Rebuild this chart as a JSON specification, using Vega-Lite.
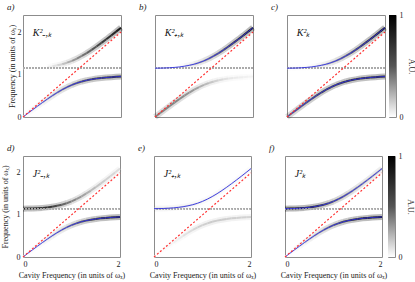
{
"$schema":"https://vega.github.io/schema/vega-lite/v6.json",
"padding":{"left":0,"top":2,"right":0,"bottom":0},
"datasets":{
"curves":[
{"x":0,"lo":0,"up":1.149,"aL":0.02,"aU":0,"bL":0.45,"bU":0,"cL":0.47,"cU":0.02,"dL":0,"dU":0.85,"eL":0,"eU":0.12,"fL":0,"fU":0.95},
{"x":0.1,"lo":0.087,"up":1.150,"aL":0.05,"aU":0,"bL":0.45,"bU":0,"cL":0.5,"cU":0.02,"dL":0.02,"dU":0.85,"eL":0.01,"eU":0.12,"fL":0.03,"fU":0.95},
{"x":0.2,"lo":0.173,"up":1.153,"aL":0.08,"aU":0,"bL":0.45,"bU":0,"cL":0.53,"cU":0.02,"dL":0.04,"dU":0.84,"eL":0.02,"eU":0.12,"fL":0.06,"fU":0.94},
{"x":0.3,"lo":0.259,"up":1.159,"aL":0.12,"aU":0,"bL":0.45,"bU":0,"cL":0.57,"cU":0.03,"dL":0.07,"dU":0.82,"eL":0.03,"eU":0.11,"fL":0.1,"fU":0.92},
{"x":0.4,"lo":0.343,"up":1.167,"aL":0.17,"aU":0,"bL":0.44,"bU":0,"cL":0.61,"cU":0.04,"dL":0.1,"dU":0.8,"eL":0.05,"eU":0.1,"fL":0.15,"fU":0.9},
{"x":0.5,"lo":0.424,"up":1.179,"aL":0.22,"aU":0.05,"bL":0.42,"bU":0.05,"cL":0.64,"cU":0.07,"dL":0.14,"dU":0.76,"eL":0.07,"eU":0.1,"fL":0.2,"fU":0.86},
{"x":0.6,"lo":0.502,"up":1.195,"aL":0.28,"aU":0.1,"bL":0.4,"bU":0.1,"cL":0.68,"cU":0.12,"dL":0.19,"dU":0.7,"eL":0.1,"eU":0.09,"fL":0.27,"fU":0.8},
{"x":0.7,"lo":0.576,"up":1.216,"aL":0.34,"aU":0.15,"bL":0.37,"bU":0.15,"cL":0.71,"cU":0.17,"dL":0.25,"dU":0.63,"eL":0.12,"eU":0.08,"fL":0.34,"fU":0.73},
{"x":0.8,"lo":0.643,"up":1.243,"aL":0.4,"aU":0.22,"bL":0.33,"bU":0.22,"cL":0.73,"cU":0.24,"dL":0.32,"dU":0.56,"eL":0.14,"eU":0.08,"fL":0.42,"fU":0.66},
{"x":0.9,"lo":0.704,"up":1.278,"aL":0.46,"aU":0.3,"bL":0.28,"bU":0.3,"cL":0.74,"cU":0.32,"dL":0.4,"dU":0.5,"eL":0.16,"eU":0.07,"fL":0.5,"fU":0.6},
{"x":1.0,"lo":0.756,"up":1.322,"aL":0.52,"aU":0.38,"bL":0.24,"bU":0.38,"cL":0.76,"cU":0.4,"dL":0.48,"dU":0.44,"eL":0.17,"eU":0.07,"fL":0.58,"fU":0.54},
{"x":1.1,"lo":0.800,"up":1.375,"aL":0.57,"aU":0.45,"bL":0.2,"bU":0.45,"cL":0.77,"cU":0.47,"dL":0.56,"dU":0.38,"eL":0.18,"eU":0.06,"fL":0.66,"fU":0.48},
{"x":1.2,"lo":0.836,"up":1.436,"aL":0.62,"aU":0.52,"bL":0.16,"bU":0.52,"cL":0.78,"cU":0.54,"dL":0.63,"dU":0.33,"eL":0.18,"eU":0.06,"fL":0.72,"fU":0.43},
{"x":1.3,"lo":0.864,"up":1.504,"aL":0.66,"aU":0.58,"bL":0.13,"bU":0.58,"cL":0.79,"cU":0.6,"dL":0.69,"dU":0.28,"eL":0.18,"eU":0.06,"fL":0.77,"fU":0.38},
{"x":1.4,"lo":0.886,"up":1.579,"aL":0.7,"aU":0.64,"bL":0.1,"bU":0.64,"cL":0.8,"cU":0.66,"dL":0.74,"dU":0.24,"eL":0.18,"eU":0.05,"fL":0.81,"fU":0.34},
{"x":1.5,"lo":0.904,"up":1.659,"aL":0.73,"aU":0.7,"bL":0.08,"bU":0.7,"cL":0.81,"cU":0.72,"dL":0.78,"dU":0.21,"eL":0.17,"eU":0.05,"fL":0.85,"fU":0.31},
{"x":1.6,"lo":0.918,"up":1.743,"aL":0.76,"aU":0.75,"bL":0.07,"bU":0.75,"cL":0.83,"cU":0.77,"dL":0.82,"dU":0.18,"eL":0.17,"eU":0.05,"fL":0.88,"fU":0.28},
{"x":1.7,"lo":0.929,"up":1.829,"aL":0.79,"aU":0.8,"bL":0.06,"bU":0.8,"cL":0.85,"cU":0.82,"dL":0.85,"dU":0.16,"eL":0.16,"eU":0.05,"fL":0.9,"fU":0.26},
{"x":1.8,"lo":0.938,"up":1.918,"aL":0.81,"aU":0.85,"bL":0.05,"bU":0.85,"cL":0.86,"cU":0.87,"dL":0.87,"dU":0.14,"eL":0.16,"eU":0.05,"fL":0.92,"fU":0.24},
{"x":1.9,"lo":0.946,"up":2.009,"aL":0.83,"aU":0.9,"bL":0.04,"bU":0.9,"cL":0.87,"cU":0.92,"dL":0.89,"dU":0.12,"eL":0.15,"eU":0.05,"fL":0.93,"fU":0.22},
{"x":2.0,"lo":0.952,"up":2.101,"aL":0.85,"aU":0.95,"bL":0.04,"bU":0.95,"cL":0.89,"cU":0.96,"dL":0.9,"dU":0.11,"eL":0.15,"eU":0.05,"fL":0.94,"fU":0.21}
],
"labels":[
{"p":"a","t":"K²₋,ₖ","lx":0.2,"ly":1.98},
{"p":"b","t":"K²₊,ₖ","lx":0.2,"ly":1.98},
{"p":"c","t":"K²ₖ","lx":0.2,"ly":1.98},
{"p":"d","t":"J²₋,ₖ","lx":0.2,"ly":1.98},
{"p":"e","t":"J²₊,ₖ","lx":0.2,"ly":1.98},
{"p":"f","t":"J²ₖ","lx":0.2,"ly":1.98}
],
"bar":[{"v0":0,"v1":1}]
},
"resolve":{"scale":{"color":"independent","opacity":"independent"}},
"vconcat":[
{"hconcat":[
{"width":98,"height":102,"title":{"text":"a)"},"data":{"name":"curves"},
"layer":[
{"transform":[{"window":[{"op":"lead","field":"x","as":"x2"},{"op":"lead","field":"lo","as":"lo2"},{"op":"lead","field":"up","as":"up2"}],"sort":[{"field":"x"}]},{"filter":"isValid(datum.x2)"}],
"mark":{"type":"rule","strokeWidth":6,"strokeCap":"butt","color":"#000"},
"encoding":{"x":{"field":"x","type":"quantitative","scale":{"domain":[0,2],"nice":false},"axis":null},"x2":{"field":"x2"},
"y":{"field":"lo","type":"quantitative","scale":{"domain":[0,2.4],"nice":false},"axis":{"values":[0,1,2],"format":"d","titlePadding":1,"labelPadding":2,"title":"Frequency (in units of ωₓ)"}},"y2":{"field":"lo2"},
"opacity":{"field":"aL","type":"quantitative","scale":{"domain":[0,1],"range":[0,0.3]},"legend":null}}},
{"transform":[{"window":[{"op":"lead","field":"x","as":"x2"},{"op":"lead","field":"lo","as":"lo2"},{"op":"lead","field":"up","as":"up2"}],"sort":[{"field":"x"}]},{"filter":"isValid(datum.x2)"}],
"mark":{"type":"rule","strokeWidth":6,"strokeCap":"butt","color":"#000"},
"encoding":{"x":{"field":"x","type":"quantitative","scale":{"domain":[0,2],"nice":false},"axis":null},"x2":{"field":"x2"},
"y":{"field":"up","type":"quantitative","scale":{"domain":[0,2.4],"nice":false},"axis":{"values":[0,1,2],"format":"d","titlePadding":1,"labelPadding":2,"title":"Frequency (in units of ωₓ)"}},"y2":{"field":"up2"},
"opacity":{"field":"aU","type":"quantitative","scale":{"domain":[0,1],"range":[0,0.3]},"legend":null}}},
{"transform":[{"window":[{"op":"lead","field":"x","as":"x2"},{"op":"lead","field":"lo","as":"lo2"},{"op":"lead","field":"up","as":"up2"}],"sort":[{"field":"x"}]},{"filter":"isValid(datum.x2)"}],
"mark":{"type":"rule","strokeWidth":2,"strokeCap":"butt"},
"encoding":{"x":{"field":"x","type":"quantitative","scale":{"domain":[0,2],"nice":false},"axis":null},"x2":{"field":"x2"},
"y":{"field":"lo","type":"quantitative","scale":{"domain":[0,2.4],"nice":false},"axis":{"values":[0,1,2],"format":"d","titlePadding":1,"labelPadding":2,"title":"Frequency (in units of ωₓ)"}},"y2":{"field":"lo2"},
"color":{"field":"aL","type":"quantitative","scale":{"domain":[0,1],"range":["#ffffff","#000000"]},"legend":null}}},
{"transform":[{"window":[{"op":"lead","field":"x","as":"x2"},{"op":"lead","field":"lo","as":"lo2"},{"op":"lead","field":"up","as":"up2"}],"sort":[{"field":"x"}]},{"filter":"isValid(datum.x2)"}],
"mark":{"type":"rule","strokeWidth":2,"strokeCap":"butt"},
"encoding":{"x":{"field":"x","type":"quantitative","scale":{"domain":[0,2],"nice":false},"axis":null},"x2":{"field":"x2"},
"y":{"field":"up","type":"quantitative","scale":{"domain":[0,2.4],"nice":false},"axis":{"values":[0,1,2],"format":"d","titlePadding":1,"labelPadding":2,"title":"Frequency (in units of ωₓ)"}},"y2":{"field":"up2"},
"color":{"field":"aU","type":"quantitative","scale":{"domain":[0,1],"range":["#ffffff","#000000"]},"legend":null}}},
{"mark":{"type":"rule","color":"#ababab","strokeWidth":0.9,"strokeDash":[1.5,1.5]},
"encoding":{"y":{"datum":1.149,"type":"quantitative","scale":{"domain":[0,2.4],"nice":false},"axis":{"values":[0,1,2],"format":"d","titlePadding":1,"labelPadding":2,"title":"Frequency (in units of ωₓ)"}}}},
{"mark":{"type":"line","color":"#2f2fe0","strokeWidth":0.9},
"encoding":{"x":{"field":"x","type":"quantitative","scale":{"domain":[0,2],"nice":false},"axis":null},
"y":{"field":"lo","type":"quantitative","scale":{"domain":[0,2.4],"nice":false},"axis":{"values":[0,1,2],"format":"d","titlePadding":1,"labelPadding":2,"title":"Frequency (in units of ωₓ)"}}}},
{"mark":{"type":"line","color":"#ff3030","strokeWidth":1.2,"strokeDash":[2,2]},
"encoding":{"x":{"field":"x","type":"quantitative","scale":{"domain":[0,2],"nice":false},"axis":null},
"y":{"field":"x","type":"quantitative","scale":{"domain":[0,2.4],"nice":false},"axis":{"values":[0,1,2],"format":"d","titlePadding":1,"labelPadding":2,"title":"Frequency (in units of ωₓ)"}}}},
{"data":{"name":"labels"},"transform":[{"filter":"datum.p=='a'"}],
"mark":{"type":"text","align":"left","baseline":"middle","fontSize":10,"fontStyle":"italic"},
"encoding":{"x":{"field":"lx","type":"quantitative","scale":{"domain":[0,2],"nice":false},"axis":null},
"y":{"field":"ly","type":"quantitative","scale":{"domain":[0,2.4],"nice":false},"axis":{"values":[0,1,2],"format":"d","titlePadding":1,"labelPadding":2,"title":"Frequency (in units of ωₓ)"}},"text":{"field":"t"}}}
]},
{"width":98,"height":102,"title":{"text":"b)"},"data":{"name":"curves"},
"layer":[
{"transform":[{"window":[{"op":"lead","field":"x","as":"x2"},{"op":"lead","field":"lo","as":"lo2"},{"op":"lead","field":"up","as":"up2"}],"sort":[{"field":"x"}]},{"filter":"isValid(datum.x2)"}],
"mark":{"type":"rule","strokeWidth":6,"strokeCap":"butt","color":"#000"},
"encoding":{"x":{"field":"x","type":"quantitative","scale":{"domain":[0,2],"nice":false},"axis":null},"x2":{"field":"x2"},
"y":{"field":"lo","type":"quantitative","scale":{"domain":[0,2.4],"nice":false},"axis":null},"y2":{"field":"lo2"},
"opacity":{"field":"bL","type":"quantitative","scale":{"domain":[0,1],"range":[0,0.3]},"legend":null}}},
{"transform":[{"window":[{"op":"lead","field":"x","as":"x2"},{"op":"lead","field":"lo","as":"lo2"},{"op":"lead","field":"up","as":"up2"}],"sort":[{"field":"x"}]},{"filter":"isValid(datum.x2)"}],
"mark":{"type":"rule","strokeWidth":6,"strokeCap":"butt","color":"#000"},
"encoding":{"x":{"field":"x","type":"quantitative","scale":{"domain":[0,2],"nice":false},"axis":null},"x2":{"field":"x2"},
"y":{"field":"up","type":"quantitative","scale":{"domain":[0,2.4],"nice":false},"axis":null},"y2":{"field":"up2"},
"opacity":{"field":"bU","type":"quantitative","scale":{"domain":[0,1],"range":[0,0.3]},"legend":null}}},
{"transform":[{"window":[{"op":"lead","field":"x","as":"x2"},{"op":"lead","field":"lo","as":"lo2"},{"op":"lead","field":"up","as":"up2"}],"sort":[{"field":"x"}]},{"filter":"isValid(datum.x2)"}],
"mark":{"type":"rule","strokeWidth":2,"strokeCap":"butt"},
"encoding":{"x":{"field":"x","type":"quantitative","scale":{"domain":[0,2],"nice":false},"axis":null},"x2":{"field":"x2"},
"y":{"field":"lo","type":"quantitative","scale":{"domain":[0,2.4],"nice":false},"axis":null},"y2":{"field":"lo2"},
"color":{"field":"bL","type":"quantitative","scale":{"domain":[0,1],"range":["#ffffff","#000000"]},"legend":null}}},
{"transform":[{"window":[{"op":"lead","field":"x","as":"x2"},{"op":"lead","field":"lo","as":"lo2"},{"op":"lead","field":"up","as":"up2"}],"sort":[{"field":"x"}]},{"filter":"isValid(datum.x2)"}],
"mark":{"type":"rule","strokeWidth":2,"strokeCap":"butt"},
"encoding":{"x":{"field":"x","type":"quantitative","scale":{"domain":[0,2],"nice":false},"axis":null},"x2":{"field":"x2"},
"y":{"field":"up","type":"quantitative","scale":{"domain":[0,2.4],"nice":false},"axis":null},"y2":{"field":"up2"},
"color":{"field":"bU","type":"quantitative","scale":{"domain":[0,1],"range":["#ffffff","#000000"]},"legend":null}}},
{"mark":{"type":"rule","color":"#ababab","strokeWidth":0.9,"strokeDash":[1.5,1.5]},
"encoding":{"y":{"datum":1.149,"type":"quantitative","scale":{"domain":[0,2.4],"nice":false},"axis":null}}},
{"mark":{"type":"line","color":"#2f2fe0","strokeWidth":0.9},
"encoding":{"x":{"field":"x","type":"quantitative","scale":{"domain":[0,2],"nice":false},"axis":null},
"y":{"field":"up","type":"quantitative","scale":{"domain":[0,2.4],"nice":false},"axis":null}}},
{"mark":{"type":"line","color":"#ff3030","strokeWidth":1.2,"strokeDash":[2,2]},
"encoding":{"x":{"field":"x","type":"quantitative","scale":{"domain":[0,2],"nice":false},"axis":null},
"y":{"field":"x","type":"quantitative","scale":{"domain":[0,2.4],"nice":false},"axis":null}}},
{"data":{"name":"labels"},"transform":[{"filter":"datum.p=='b'"}],
"mark":{"type":"text","align":"left","baseline":"middle","fontSize":10,"fontStyle":"italic"},
"encoding":{"x":{"field":"lx","type":"quantitative","scale":{"domain":[0,2],"nice":false},"axis":null},
"y":{"field":"ly","type":"quantitative","scale":{"domain":[0,2.4],"nice":false},"axis":null},"text":{"field":"t"}}}
]},
{"hconcat":[
{"width":98,"height":102,"title":{"text":"c)"},"data":{"name":"curves"},
"layer":[
{"transform":[{"window":[{"op":"lead","field":"x","as":"x2"},{"op":"lead","field":"lo","as":"lo2"},{"op":"lead","field":"up","as":"up2"}],"sort":[{"field":"x"}]},{"filter":"isValid(datum.x2)"}],
"mark":{"type":"rule","strokeWidth":6,"strokeCap":"butt","color":"#000"},
"encoding":{"x":{"field":"x","type":"quantitative","scale":{"domain":[0,2],"nice":false},"axis":null},"x2":{"field":"x2"},
"y":{"field":"lo","type":"quantitative","scale":{"domain":[0,2.4],"nice":false},"axis":null},"y2":{"field":"lo2"},
"opacity":{"field":"cL","type":"quantitative","scale":{"domain":[0,1],"range":[0,0.3]},"legend":null}}},
{"transform":[{"window":[{"op":"lead","field":"x","as":"x2"},{"op":"lead","field":"lo","as":"lo2"},{"op":"lead","field":"up","as":"up2"}],"sort":[{"field":"x"}]},{"filter":"isValid(datum.x2)"}],
"mark":{"type":"rule","strokeWidth":6,"strokeCap":"butt","color":"#000"},
"encoding":{"x":{"field":"x","type":"quantitative","scale":{"domain":[0,2],"nice":false},"axis":null},"x2":{"field":"x2"},
"y":{"field":"up","type":"quantitative","scale":{"domain":[0,2.4],"nice":false},"axis":null},"y2":{"field":"up2"},
"opacity":{"field":"cU","type":"quantitative","scale":{"domain":[0,1],"range":[0,0.3]},"legend":null}}},
{"transform":[{"window":[{"op":"lead","field":"x","as":"x2"},{"op":"lead","field":"lo","as":"lo2"},{"op":"lead","field":"up","as":"up2"}],"sort":[{"field":"x"}]},{"filter":"isValid(datum.x2)"}],
"mark":{"type":"rule","strokeWidth":2,"strokeCap":"butt"},
"encoding":{"x":{"field":"x","type":"quantitative","scale":{"domain":[0,2],"nice":false},"axis":null},"x2":{"field":"x2"},
"y":{"field":"lo","type":"quantitative","scale":{"domain":[0,2.4],"nice":false},"axis":null},"y2":{"field":"lo2"},
"color":{"field":"cL","type":"quantitative","scale":{"domain":[0,1],"range":["#ffffff","#000000"]},"legend":null}}},
{"transform":[{"window":[{"op":"lead","field":"x","as":"x2"},{"op":"lead","field":"lo","as":"lo2"},{"op":"lead","field":"up","as":"up2"}],"sort":[{"field":"x"}]},{"filter":"isValid(datum.x2)"}],
"mark":{"type":"rule","strokeWidth":2,"strokeCap":"butt"},
"encoding":{"x":{"field":"x","type":"quantitative","scale":{"domain":[0,2],"nice":false},"axis":null},"x2":{"field":"x2"},
"y":{"field":"up","type":"quantitative","scale":{"domain":[0,2.4],"nice":false},"axis":null},"y2":{"field":"up2"},
"color":{"field":"cU","type":"quantitative","scale":{"domain":[0,1],"range":["#ffffff","#000000"]},"legend":null}}},
{"mark":{"type":"rule","color":"#ababab","strokeWidth":0.9,"strokeDash":[1.5,1.5]},
"encoding":{"y":{"datum":1.149,"type":"quantitative","scale":{"domain":[0,2.4],"nice":false},"axis":null}}},
{"mark":{"type":"line","color":"#2f2fe0","strokeWidth":0.9},
"encoding":{"x":{"field":"x","type":"quantitative","scale":{"domain":[0,2],"nice":false},"axis":null},
"y":{"field":"lo","type":"quantitative","scale":{"domain":[0,2.4],"nice":false},"axis":null}}},
{"mark":{"type":"line","color":"#2f2fe0","strokeWidth":0.9},
"encoding":{"x":{"field":"x","type":"quantitative","scale":{"domain":[0,2],"nice":false},"axis":null},
"y":{"field":"up","type":"quantitative","scale":{"domain":[0,2.4],"nice":false},"axis":null}}},
{"mark":{"type":"line","color":"#ff3030","strokeWidth":1.2,"strokeDash":[2,2]},
"encoding":{"x":{"field":"x","type":"quantitative","scale":{"domain":[0,2],"nice":false},"axis":null},
"y":{"field":"x","type":"quantitative","scale":{"domain":[0,2.4],"nice":false},"axis":null}}},
{"data":{"name":"labels"},"transform":[{"filter":"datum.p=='c'"}],
"mark":{"type":"text","align":"left","baseline":"middle","fontSize":10,"fontStyle":"italic"},
"encoding":{"x":{"field":"lx","type":"quantitative","scale":{"domain":[0,2],"nice":false},"axis":null},
"y":{"field":"ly","type":"quantitative","scale":{"domain":[0,2.4],"nice":false},"axis":null},"text":{"field":"t"}}}
]},
{"width":7,"height":102,"data":{"name":"bar"},
"mark":{"type":"rect","color":{"gradient":"linear","x1":0,"y1":1,"x2":0,"y2":0,"stops":[{"offset":0,"color":"#ffffff"},{"offset":0.5,"color":"#555555"},{"offset":1,"color":"#000000"}]}},
"encoding":{"y":{"field":"v0","type":"quantitative","scale":{"domain":[0,1],"nice":false},"axis":{"orient":"right","values":[0,1],"format":"d","title":"A.U.","titlePadding":3,"labelPadding":3}},"y2":{"field":"v1"}}}
],"spacing":-4}
],"spacing":13},
{"hconcat":[
{"width":97,"height":101,"title":{"text":"d)"},"data":{"name":"curves"},
"layer":[
{"transform":[{"window":[{"op":"lead","field":"x","as":"x2"},{"op":"lead","field":"lo","as":"lo2"},{"op":"lead","field":"up","as":"up2"}],"sort":[{"field":"x"}]},{"filter":"isValid(datum.x2)"}],
"mark":{"type":"rule","strokeWidth":6,"strokeCap":"butt","color":"#000"},
"encoding":{"x":{"field":"x","type":"quantitative","scale":{"domain":[0,2],"nice":false},"axis":{"values":[0,1,2],"format":"d","title":"Cavity Frequency (in units of ωₓ)"}},"x2":{"field":"x2"},
"y":{"field":"lo","type":"quantitative","scale":{"domain":[0,2.4],"nice":false},"axis":{"values":[0,1,2],"format":"d","titlePadding":7,"title":"Frequency (in units of ωₓ)"}},"y2":{"field":"lo2"},
"opacity":{"field":"dL","type":"quantitative","scale":{"domain":[0,1],"range":[0,0.3]},"legend":null}}},
{"transform":[{"window":[{"op":"lead","field":"x","as":"x2"},{"op":"lead","field":"lo","as":"lo2"},{"op":"lead","field":"up","as":"up2"}],"sort":[{"field":"x"}]},{"filter":"isValid(datum.x2)"}],
"mark":{"type":"rule","strokeWidth":6,"strokeCap":"butt","color":"#000"},
"encoding":{"x":{"field":"x","type":"quantitative","scale":{"domain":[0,2],"nice":false},"axis":{"values":[0,1,2],"format":"d","title":"Cavity Frequency (in units of ωₓ)"}},"x2":{"field":"x2"},
"y":{"field":"up","type":"quantitative","scale":{"domain":[0,2.4],"nice":false},"axis":{"values":[0,1,2],"format":"d","titlePadding":7,"title":"Frequency (in units of ωₓ)"}},"y2":{"field":"up2"},
"opacity":{"field":"dU","type":"quantitative","scale":{"domain":[0,1],"range":[0,0.3]},"legend":null}}},
{"transform":[{"window":[{"op":"lead","field":"x","as":"x2"},{"op":"lead","field":"lo","as":"lo2"},{"op":"lead","field":"up","as":"up2"}],"sort":[{"field":"x"}]},{"filter":"isValid(datum.x2)"}],
"mark":{"type":"rule","strokeWidth":2,"strokeCap":"butt"},
"encoding":{"x":{"field":"x","type":"quantitative","scale":{"domain":[0,2],"nice":false},"axis":{"values":[0,1,2],"format":"d","title":"Cavity Frequency (in units of ωₓ)"}},"x2":{"field":"x2"},
"y":{"field":"lo","type":"quantitative","scale":{"domain":[0,2.4],"nice":false},"axis":{"values":[0,1,2],"format":"d","titlePadding":7,"title":"Frequency (in units of ωₓ)"}},"y2":{"field":"lo2"},
"color":{"field":"dL","type":"quantitative","scale":{"domain":[0,1],"range":["#ffffff","#000000"]},"legend":null}}},
{"transform":[{"window":[{"op":"lead","field":"x","as":"x2"},{"op":"lead","field":"lo","as":"lo2"},{"op":"lead","field":"up","as":"up2"}],"sort":[{"field":"x"}]},{"filter":"isValid(datum.x2)"}],
"mark":{"type":"rule","strokeWidth":2,"strokeCap":"butt"},
"encoding":{"x":{"field":"x","type":"quantitative","scale":{"domain":[0,2],"nice":false},"axis":{"values":[0,1,2],"format":"d","title":"Cavity Frequency (in units of ωₓ)"}},"x2":{"field":"x2"},
"y":{"field":"up","type":"quantitative","scale":{"domain":[0,2.4],"nice":false},"axis":{"values":[0,1,2],"format":"d","titlePadding":7,"title":"Frequency (in units of ωₓ)"}},"y2":{"field":"up2"},
"color":{"field":"dU","type":"quantitative","scale":{"domain":[0,1],"range":["#ffffff","#000000"]},"legend":null}}},
{"mark":{"type":"rule","color":"#ababab","strokeWidth":0.9,"strokeDash":[1.5,1.5]},
"encoding":{"y":{"datum":1.149,"type":"quantitative","scale":{"domain":[0,2.4],"nice":false},"axis":{"values":[0,1,2],"format":"d","titlePadding":7,"title":"Frequency (in units of ωₓ)"}}}},
{"mark":{"type":"line","color":"#2f2fe0","strokeWidth":0.9},
"encoding":{"x":{"field":"x","type":"quantitative","scale":{"domain":[0,2],"nice":false},"axis":{"values":[0,1,2],"format":"d","title":"Cavity Frequency (in units of ωₓ)"}},
"y":{"field":"lo","type":"quantitative","scale":{"domain":[0,2.4],"nice":false},"axis":{"values":[0,1,2],"format":"d","titlePadding":7,"title":"Frequency (in units of ωₓ)"}}}},
{"mark":{"type":"line","color":"#ff3030","strokeWidth":1.2,"strokeDash":[2,2]},
"encoding":{"x":{"field":"x","type":"quantitative","scale":{"domain":[0,2],"nice":false},"axis":{"values":[0,1,2],"format":"d","title":"Cavity Frequency (in units of ωₓ)"}},
"y":{"field":"x","type":"quantitative","scale":{"domain":[0,2.4],"nice":false},"axis":{"values":[0,1,2],"format":"d","titlePadding":7,"title":"Frequency (in units of ωₓ)"}}}},
{"data":{"name":"labels"},"transform":[{"filter":"datum.p=='d'"}],
"mark":{"type":"text","align":"left","baseline":"middle","fontSize":10,"fontStyle":"italic"},
"encoding":{"x":{"field":"lx","type":"quantitative","scale":{"domain":[0,2],"nice":false},"axis":{"values":[0,1,2],"format":"d","title":"Cavity Frequency (in units of ωₓ)"}},
"y":{"field":"ly","type":"quantitative","scale":{"domain":[0,2.4],"nice":false},"axis":{"values":[0,1,2],"format":"d","titlePadding":7,"title":"Frequency (in units of ωₓ)"}},"text":{"field":"t"}}}
]},
{"width":97,"height":101,"title":{"text":"e)"},"data":{"name":"curves"},
"layer":[
{"transform":[{"window":[{"op":"lead","field":"x","as":"x2"},{"op":"lead","field":"lo","as":"lo2"},{"op":"lead","field":"up","as":"up2"}],"sort":[{"field":"x"}]},{"filter":"isValid(datum.x2)"}],
"mark":{"type":"rule","strokeWidth":6,"strokeCap":"butt","color":"#000"},
"encoding":{"x":{"field":"x","type":"quantitative","scale":{"domain":[0,2],"nice":false},"axis":{"values":[0,1,2],"format":"d","title":"Cavity Frequency (in units of ωₓ)"}},"x2":{"field":"x2"},
"y":{"field":"lo","type":"quantitative","scale":{"domain":[0,2.4],"nice":false},"axis":null},"y2":{"field":"lo2"},
"opacity":{"field":"eL","type":"quantitative","scale":{"domain":[0,1],"range":[0,0.3]},"legend":null}}},
{"transform":[{"window":[{"op":"lead","field":"x","as":"x2"},{"op":"lead","field":"lo","as":"lo2"},{"op":"lead","field":"up","as":"up2"}],"sort":[{"field":"x"}]},{"filter":"isValid(datum.x2)"}],
"mark":{"type":"rule","strokeWidth":6,"strokeCap":"butt","color":"#000"},
"encoding":{"x":{"field":"x","type":"quantitative","scale":{"domain":[0,2],"nice":false},"axis":{"values":[0,1,2],"format":"d","title":"Cavity Frequency (in units of ωₓ)"}},"x2":{"field":"x2"},
"y":{"field":"up","type":"quantitative","scale":{"domain":[0,2.4],"nice":false},"axis":null},"y2":{"field":"up2"},
"opacity":{"field":"eU","type":"quantitative","scale":{"domain":[0,1],"range":[0,0.3]},"legend":null}}},
{"transform":[{"window":[{"op":"lead","field":"x","as":"x2"},{"op":"lead","field":"lo","as":"lo2"},{"op":"lead","field":"up","as":"up2"}],"sort":[{"field":"x"}]},{"filter":"isValid(datum.x2)"}],
"mark":{"type":"rule","strokeWidth":2,"strokeCap":"butt"},
"encoding":{"x":{"field":"x","type":"quantitative","scale":{"domain":[0,2],"nice":false},"axis":{"values":[0,1,2],"format":"d","title":"Cavity Frequency (in units of ωₓ)"}},"x2":{"field":"x2"},
"y":{"field":"lo","type":"quantitative","scale":{"domain":[0,2.4],"nice":false},"axis":null},"y2":{"field":"lo2"},
"color":{"field":"eL","type":"quantitative","scale":{"domain":[0,1],"range":["#ffffff","#000000"]},"legend":null}}},
{"transform":[{"window":[{"op":"lead","field":"x","as":"x2"},{"op":"lead","field":"lo","as":"lo2"},{"op":"lead","field":"up","as":"up2"}],"sort":[{"field":"x"}]},{"filter":"isValid(datum.x2)"}],
"mark":{"type":"rule","strokeWidth":2,"strokeCap":"butt"},
"encoding":{"x":{"field":"x","type":"quantitative","scale":{"domain":[0,2],"nice":false},"axis":{"values":[0,1,2],"format":"d","title":"Cavity Frequency (in units of ωₓ)"}},"x2":{"field":"x2"},
"y":{"field":"up","type":"quantitative","scale":{"domain":[0,2.4],"nice":false},"axis":null},"y2":{"field":"up2"},
"color":{"field":"eU","type":"quantitative","scale":{"domain":[0,1],"range":["#ffffff","#000000"]},"legend":null}}},
{"mark":{"type":"rule","color":"#ababab","strokeWidth":0.9,"strokeDash":[1.5,1.5]},
"encoding":{"y":{"datum":1.149,"type":"quantitative","scale":{"domain":[0,2.4],"nice":false},"axis":null}}},
{"mark":{"type":"line","color":"#2f2fe0","strokeWidth":0.9},
"encoding":{"x":{"field":"x","type":"quantitative","scale":{"domain":[0,2],"nice":false},"axis":{"values":[0,1,2],"format":"d","title":"Cavity Frequency (in units of ωₓ)"}},
"y":{"field":"up","type":"quantitative","scale":{"domain":[0,2.4],"nice":false},"axis":null}}},
{"mark":{"type":"line","color":"#ff3030","strokeWidth":1.2,"strokeDash":[2,2]},
"encoding":{"x":{"field":"x","type":"quantitative","scale":{"domain":[0,2],"nice":false},"axis":{"values":[0,1,2],"format":"d","title":"Cavity Frequency (in units of ωₓ)"}},
"y":{"field":"x","type":"quantitative","scale":{"domain":[0,2.4],"nice":false},"axis":null}}},
{"data":{"name":"labels"},"transform":[{"filter":"datum.p=='e'"}],
"mark":{"type":"text","align":"left","baseline":"middle","fontSize":10,"fontStyle":"italic"},
"encoding":{"x":{"field":"lx","type":"quantitative","scale":{"domain":[0,2],"nice":false},"axis":{"values":[0,1,2],"format":"d","title":"Cavity Frequency (in units of ωₓ)"}},
"y":{"field":"ly","type":"quantitative","scale":{"domain":[0,2.4],"nice":false},"axis":null},"text":{"field":"t"}}}
]},
{"hconcat":[
{"width":97,"height":101,"title":{"text":"f)"},"data":{"name":"curves"},
"layer":[
{"transform":[{"window":[{"op":"lead","field":"x","as":"x2"},{"op":"lead","field":"lo","as":"lo2"},{"op":"lead","field":"up","as":"up2"}],"sort":[{"field":"x"}]},{"filter":"isValid(datum.x2)"}],
"mark":{"type":"rule","strokeWidth":6,"strokeCap":"butt","color":"#000"},
"encoding":{"x":{"field":"x","type":"quantitative","scale":{"domain":[0,2],"nice":false},"axis":{"values":[0,1,2],"format":"d","title":"Cavity Frequency (in units of ωₓ)"}},"x2":{"field":"x2"},
"y":{"field":"lo","type":"quantitative","scale":{"domain":[0,2.4],"nice":false},"axis":null},"y2":{"field":"lo2"},
"opacity":{"field":"fL","type":"quantitative","scale":{"domain":[0,1],"range":[0,0.3]},"legend":null}}},
{"transform":[{"window":[{"op":"lead","field":"x","as":"x2"},{"op":"lead","field":"lo","as":"lo2"},{"op":"lead","field":"up","as":"up2"}],"sort":[{"field":"x"}]},{"filter":"isValid(datum.x2)"}],
"mark":{"type":"rule","strokeWidth":6,"strokeCap":"butt","color":"#000"},
"encoding":{"x":{"field":"x","type":"quantitative","scale":{"domain":[0,2],"nice":false},"axis":{"values":[0,1,2],"format":"d","title":"Cavity Frequency (in units of ωₓ)"}},"x2":{"field":"x2"},
"y":{"field":"up","type":"quantitative","scale":{"domain":[0,2.4],"nice":false},"axis":null},"y2":{"field":"up2"},
"opacity":{"field":"fU","type":"quantitative","scale":{"domain":[0,1],"range":[0,0.3]},"legend":null}}},
{"transform":[{"window":[{"op":"lead","field":"x","as":"x2"},{"op":"lead","field":"lo","as":"lo2"},{"op":"lead","field":"up","as":"up2"}],"sort":[{"field":"x"}]},{"filter":"isValid(datum.x2)"}],
"mark":{"type":"rule","strokeWidth":2,"strokeCap":"butt"},
"encoding":{"x":{"field":"x","type":"quantitative","scale":{"domain":[0,2],"nice":false},"axis":{"values":[0,1,2],"format":"d","title":"Cavity Frequency (in units of ωₓ)"}},"x2":{"field":"x2"},
"y":{"field":"lo","type":"quantitative","scale":{"domain":[0,2.4],"nice":false},"axis":null},"y2":{"field":"lo2"},
"color":{"field":"fL","type":"quantitative","scale":{"domain":[0,1],"range":["#ffffff","#000000"]},"legend":null}}},
{"transform":[{"window":[{"op":"lead","field":"x","as":"x2"},{"op":"lead","field":"lo","as":"lo2"},{"op":"lead","field":"up","as":"up2"}],"sort":[{"field":"x"}]},{"filter":"isValid(datum.x2)"}],
"mark":{"type":"rule","strokeWidth":2,"strokeCap":"butt"},
"encoding":{"x":{"field":"x","type":"quantitative","scale":{"domain":[0,2],"nice":false},"axis":{"values":[0,1,2],"format":"d","title":"Cavity Frequency (in units of ωₓ)"}},"x2":{"field":"x2"},
"y":{"field":"up","type":"quantitative","scale":{"domain":[0,2.4],"nice":false},"axis":null},"y2":{"field":"up2"},
"color":{"field":"fU","type":"quantitative","scale":{"domain":[0,1],"range":["#ffffff","#000000"]},"legend":null}}},
{"mark":{"type":"rule","color":"#ababab","strokeWidth":0.9,"strokeDash":[1.5,1.5]},
"encoding":{"y":{"datum":1.149,"type":"quantitative","scale":{"domain":[0,2.4],"nice":false},"axis":null}}},
{"mark":{"type":"line","color":"#2f2fe0","strokeWidth":0.9},
"encoding":{"x":{"field":"x","type":"quantitative","scale":{"domain":[0,2],"nice":false},"axis":{"values":[0,1,2],"format":"d","title":"Cavity Frequency (in units of ωₓ)"}},
"y":{"field":"lo","type":"quantitative","scale":{"domain":[0,2.4],"nice":false},"axis":null}}},
{"mark":{"type":"line","color":"#2f2fe0","strokeWidth":0.9},
"encoding":{"x":{"field":"x","type":"quantitative","scale":{"domain":[0,2],"nice":false},"axis":{"values":[0,1,2],"format":"d","title":"Cavity Frequency (in units of ωₓ)"}},
"y":{"field":"up","type":"quantitative","scale":{"domain":[0,2.4],"nice":false},"axis":null}}},
{"mark":{"type":"line","color":"#ff3030","strokeWidth":1.2,"strokeDash":[2,2]},
"encoding":{"x":{"field":"x","type":"quantitative","scale":{"domain":[0,2],"nice":false},"axis":{"values":[0,1,2],"format":"d","title":"Cavity Frequency (in units of ωₓ)"}},
"y":{"field":"x","type":"quantitative","scale":{"domain":[0,2.4],"nice":false},"axis":null}}},
{"data":{"name":"labels"},"transform":[{"filter":"datum.p=='f'"}],
"mark":{"type":"text","align":"left","baseline":"middle","fontSize":10,"fontStyle":"italic"},
"encoding":{"x":{"field":"lx","type":"quantitative","scale":{"domain":[0,2],"nice":false},"axis":{"values":[0,1,2],"format":"d","title":"Cavity Frequency (in units of ωₓ)"}},
"y":{"field":"ly","type":"quantitative","scale":{"domain":[0,2.4],"nice":false},"axis":null},"text":{"field":"t"}}}
]},
{"width":7,"height":101,"data":{"name":"bar"},
"mark":{"type":"rect","color":{"gradient":"linear","x1":0,"y1":1,"x2":0,"y2":0,"stops":[{"offset":0,"color":"#ffffff"},{"offset":0.5,"color":"#555555"},{"offset":1,"color":"#000000"}]}},
"encoding":{"y":{"field":"v0","type":"quantitative","scale":{"domain":[0,1],"nice":false},"axis":{"orient":"right","values":[0,1],"format":"d","title":"A.U.","titlePadding":3,"labelPadding":3}},"y2":{"field":"v1"}}}
],"spacing":-5}
],"spacing":11}
],
"spacing":21,
"config":{
"font":"Liberation Serif",
"view":{"stroke":"#8c8c8c","strokeWidth":1},
"axis":{"grid":false,"domain":false,"ticks":false,"labelFontSize":8,"titleFontSize":8,"titleFontWeight":"normal","labelColor":"#222","titleColor":"#222","labelPadding":3,"titlePadding":3,"labelFont":"Liberation Serif","titleFont":"Liberation Serif"},
"title":{"anchor":"start","frame":"group","dx":-16,"offset":3,"fontSize":9,"fontStyle":"italic","fontWeight":"normal","font":"Liberation Serif","color":"#222"},
"text":{"font":"Liberation Serif","color":"#111"}
}
}
